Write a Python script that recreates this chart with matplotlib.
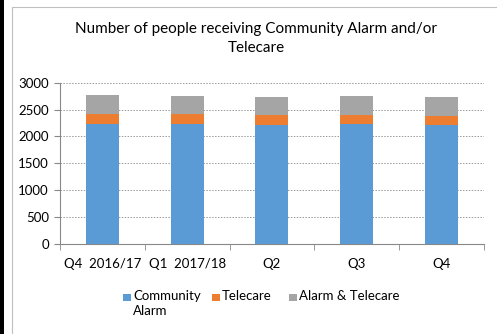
import numpy as np
import matplotlib.pyplot as plt
from matplotlib.patches import Rectangle

# Quarterly counts
quarters = ['Q4  2016/17', 'Q1  2017/18', 'Q2', 'Q3', 'Q4']
community_alarm = [2236, 2232, 2205, 2224, 2205]
telecare = [180, 184, 193, 174, 167]
alarm_telecare = [347, 345, 328, 360, 361]

series_names = ['Community\nAlarm', 'Telecare', 'Alarm & Telecare']
colors = ['#5B9BD5', '#ED7D31', '#A5A5A5']

plt.rcParams['font.family'] = ['Lato', 'DejaVu Sans']

fig = plt.figure(figsize=(4.97, 3.34), dpi=100)

# outer chart frame and the table border on the far left
fig.patches.append(Rectangle((12 / 497, -0.01), 1.0, 1 - 7 / 334 + 0.01,
                             transform=fig.transFigure, fill=False,
                             edgecolor='#bfbfbf', linewidth=0.8))
fig.patches.append(Rectangle((0, 0), 4 / 497, 1, transform=fig.transFigure,
                             facecolor='black', edgecolor='none'))

ax = fig.add_axes([0.1207, 0.2695, 0.853, 0.483])

x = np.arange(len(quarters))
w = 0.39
bottom = np.zeros(len(quarters))
for vals, c in zip([community_alarm, telecare, alarm_telecare], colors):
    ax.bar(x, vals, w, bottom=bottom, color=c, zorder=3)
    bottom = bottom + np.array(vals)

ax.set_xlim(-0.5, len(quarters) - 0.5)
ax.set_ylim(0, 3000)
ax.set_yticks(range(0, 3001, 500))
ax.set_xticks(x)
ax.set_xticklabels(quarters, fontsize=9.5)
ax.set_xticks(np.arange(-0.5, len(quarters), 1), minor=True)
ax.tick_params(axis='x', which='major', length=0, pad=10)
ax.tick_params(axis='x', which='minor', length=4, color='#888888')
ax.tick_params(axis='y', length=4, color='#888888', labelsize=9.5, pad=4)

ax.grid(axis='y', linestyle=(0, (1.5, 1.5)), color='#9a9a9a', linewidth=0.7, zorder=0)
for s in ['top', 'right']:
    ax.spines[s].set_visible(False)
ax.spines['left'].set_color('#888888')
ax.spines['bottom'].set_color('#888888')

fig.text(0.515, 0.885, 'Number of people receiving Community Alarm and/or\nTelecare',
         ha='center', va='center', fontsize=11, linespacing=1.5)

# legend, markers aligned with the first text line
leg_x = [123, 212, 289]
for lx, name, c in zip(leg_x, series_names, colors):
    fig.patches.append(Rectangle((lx / 497, 1 - 301 / 334), 7.5 / 497, 7.5 / 334,
                                 transform=fig.transFigure, facecolor=c,
                                 edgecolor='none'))
    fig.text((lx + 10) / 497, 1 - 290 / 334, name, ha='left', va='top',
             fontsize=9.5, linespacing=1.3)

plt.savefig('out.png', dpi=100)
